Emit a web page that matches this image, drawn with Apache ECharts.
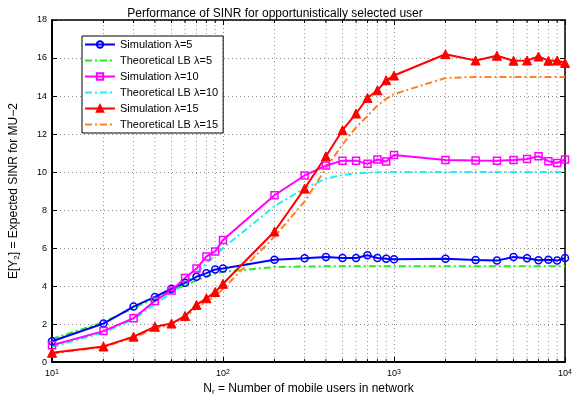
<!DOCTYPE html>
<html>
<head>
<meta charset="utf-8">
<script src="https://cdn.jsdelivr.net/npm/echarts@6/dist/echarts.min.js"></script>
<style>
html,body{margin:0;padding:0;background:#fff;}
#chart{width:580px;height:401px;}
</style>
</head>
<body>
<div id="chart"></div>
<script>
const xVals = [10,20,30,40,50,60,70,80,90,100,200,300,400,500,600,700,800,900,1000,2000,3000,4000,5000,6000,7000,8000,9000,10000];
const sim5  = [1.10,2.03,2.92,3.43,3.86,4.17,4.49,4.68,4.87,4.92,5.39,5.46,5.53,5.48,5.48,5.62,5.48,5.44,5.41,5.44,5.37,5.34,5.53,5.46,5.36,5.39,5.34,5.48];
const lb5   = [1.22,2.10,2.85,3.35,3.75,4.05,4.30,4.50,4.65,4.75,5.00,5.03,5.04,5.04,5.04,5.04,5.04,5.04,5.04,5.04,5.04,5.04,5.04,5.04,5.04,5.04,5.04,5.04];
const sim10 = [0.89,1.63,2.31,3.22,3.77,4.43,4.92,5.56,5.82,6.43,8.78,9.82,10.34,10.60,10.60,10.43,10.66,10.55,10.90,10.64,10.61,10.60,10.64,10.69,10.83,10.57,10.48,10.66];
const lb10  = [0.80,1.55,2.25,3.05,3.65,4.20,4.70,5.20,5.60,6.00,8.20,9.15,9.65,9.85,9.93,9.97,9.99,10.0,10.0,10.0,10.0,10.0,10.0,10.0,10.0,10.0,10.0,10.0];
const sim15 = [0.49,0.82,1.34,1.86,2.03,2.43,3.01,3.36,3.69,4.12,6.87,9.13,10.83,12.20,13.08,13.90,14.30,14.83,15.08,16.20,15.87,16.12,15.86,15.87,16.08,15.86,15.87,15.74];
const lb15  = [0.45,0.80,1.30,1.75,2.00,2.35,2.85,3.20,3.50,3.85,6.60,8.45,10.20,11.45,12.35,12.95,13.50,13.85,14.10,14.95,15.0,15.0,15.0,15.0,15.0,15.0,15.0,15.0];
const minorX = [20,30,40,50,60,70,80,90,200,300,400,500,600,700,800,900,2000,3000,4000,5000,6000,7000,8000,9000];
const seriesNames = ['Simulation λ=5','Theoretical LB λ=5','Simulation λ=10','Theoretical LB λ=10','Simulation λ=15','Theoretical LB λ=15'];
const yMin = 0, yMax = 18, yStep = 2;

const pair = arr => xVals.map((x,i)=>[x, arr[i]]);
const FONT = 'Liberation Sans, Arial, Helvetica, sans-serif';
const dashDot = [7,3,2,3];

const chart = echarts.init(document.getElementById('chart'), null, {renderer:'canvas'});
const gridLine = {show:true, lineStyle:{color:'#8a8a8a', type:[1,3], width:1}};

chart.setOption({
  animation:false,
  backgroundColor:'#fff',
  textStyle:{fontFamily:FONT},
  title:{
    text:'Performance of SINR for opportunistically selected user',
    left:270, top:3, textAlign:'center',
    textStyle:{fontSize:12, fontWeight:'normal', color:'#000', fontFamily:FONT}
  },
  grid:{left:49, right:15, top:20, bottom:36, containLabel:false},
  legend:{
    data:seriesNames.map((n,i)=> i%2===1 ? {name:n, itemStyle:{opacity:0}} : {name:n}),
    orient:'vertical',
    left:82, top:36,
    padding:[3,5,3,2],
    itemGap:5, itemWidth:30, itemHeight:8,
    backgroundColor:'#fff', borderColor:'#000', borderWidth:1,
    textStyle:{fontSize:11, color:'#000', fontFamily:FONT}
  },
  xAxis:[{
    type:'log', logBase:10, min:10, max:10000, position:'bottom',
    name:'{n|N}{s|r}{n| = Number of mobile users in network}',
    nameLocation:'middle', nameGap:17,
    nameTextStyle:{rich:{
      n:{fontSize:12, color:'#000', fontFamily:FONT, lineHeight:13, verticalAlign:'top'},
      s:{fontSize:8, color:'#000', fontFamily:FONT, lineHeight:9, verticalAlign:'bottom'}
    }},
    axisLine:{show:true, lineStyle:{color:'#000', width:2}},
    axisTick:{show:true, inside:true, length:5, lineStyle:{color:'#000'}},
    axisLabel:{margin:6, formatter:v=>'{n|10}{s|'+Math.round(Math.log10(v))+'}',
      rich:{n:{fontSize:9, color:'#000', fontFamily:FONT, lineHeight:10, verticalAlign:'bottom'},
            s:{fontSize:7, color:'#000', fontFamily:FONT, lineHeight:8, verticalAlign:'top'}}},
    splitLine:gridLine
  },{
    type:'log', logBase:10, min:10, max:10000, position:'top',
    axisLine:{show:true, onZero:false, lineStyle:{color:'#000', width:1.5}},
    axisTick:{show:true, inside:true, length:5, lineStyle:{color:'#000'}},
    axisLabel:{show:false}, splitLine:{show:false}
  }],
  yAxis:[{
    type:'value', min:yMin, max:yMax, interval:yStep, position:'left',
    name:'{n|E[Υ}{s|2}{n|] = Expected SINR for MU−2}',
    nameLocation:'middle', nameGap:31,
    nameTextStyle:{rich:{
      n:{fontSize:12, color:'#000', fontFamily:FONT, lineHeight:13, verticalAlign:'top'},
      s:{fontSize:8, color:'#000', fontFamily:FONT, lineHeight:9, verticalAlign:'bottom'}
    }},
    axisLine:{show:true, lineStyle:{color:'#000', width:2}},
    axisTick:{show:true, inside:true, length:5, lineStyle:{color:'#000'}},
    axisLabel:{fontSize:9, color:'#000', margin:5, fontFamily:FONT},
    splitLine:gridLine
  },{
    type:'value', min:yMin, max:yMax, interval:yStep, position:'right',
    axisLine:{show:true, onZero:false, lineStyle:{color:'#000', width:1.5}},
    axisTick:{show:true, inside:true, length:5, lineStyle:{color:'#000'}},
    axisLabel:{show:false}, splitLine:{show:false}
  }],
  series:[
    {
      type:'custom', name:'minorGrid', silent:true, z:1, clip:false,
      xAxisIndex:0, yAxisIndex:0,
      data:minorX.map(v=>[v, yMin]),
      renderItem:(params, api)=>{
        const v = api.value(0);
        const b = api.coord([v, yMin]);
        const t = api.coord([v, yMax]);
        return {type:'group', children:[
          {type:'line', shape:{x1:b[0],y1:b[1],x2:t[0],y2:t[1]}, style:{stroke:'#8a8a8a', lineDash:[1,3], lineWidth:1}},
          {type:'line', shape:{x1:b[0],y1:b[1],x2:b[0],y2:b[1]-3}, style:{stroke:'#000', lineWidth:1}},
          {type:'line', shape:{x1:t[0],y1:t[1],x2:t[0],y2:t[1]+3}, style:{stroke:'#000', lineWidth:1}}
        ]};
      }
    },
    {name:seriesNames[0], type:'line', data:pair(sim5), z:5,
      symbol:'circle', symbolSize:7, showSymbol:true,
      lineStyle:{color:'#0000ff', width:2},
      itemStyle:{color:'rgba(0,0,0,0)', borderColor:'#0000ff', borderWidth:1.5}},
    {name:seriesNames[1], type:'line', data:pair(lb5), z:4,
      symbol:'none', showSymbol:false,
      lineStyle:{color:'#22ee22', width:2, type:dashDot},
      itemStyle:{color:'#22ee22'}},
    {name:seriesNames[2], type:'line', data:pair(sim10), z:5,
      symbol:'rect', symbolSize:7, showSymbol:true,
      lineStyle:{color:'#ff00ff', width:2},
      itemStyle:{color:'rgba(0,0,0,0)', borderColor:'#ff00ff', borderWidth:1.5}},
    {name:seriesNames[3], type:'line', data:pair(lb10), z:4,
      symbol:'none', showSymbol:false,
      lineStyle:{color:'#22eeee', width:2, type:dashDot},
      itemStyle:{color:'#22eeee'}},
    {name:seriesNames[4], type:'line', data:pair(sim15), z:5,
      symbol:'triangle', symbolSize:9, showSymbol:true,
      lineStyle:{color:'#ff0000', width:2},
      itemStyle:{color:'#ff0000', borderColor:'#ff0000', borderWidth:1}},
    {name:seriesNames[5], type:'line', data:pair(lb15), z:4,
      symbol:'none', showSymbol:false,
      lineStyle:{color:'#ff8020', width:2, type:dashDot},
      itemStyle:{color:'#ff8020'}}
  ]
});
</script>
</body>
</html>
